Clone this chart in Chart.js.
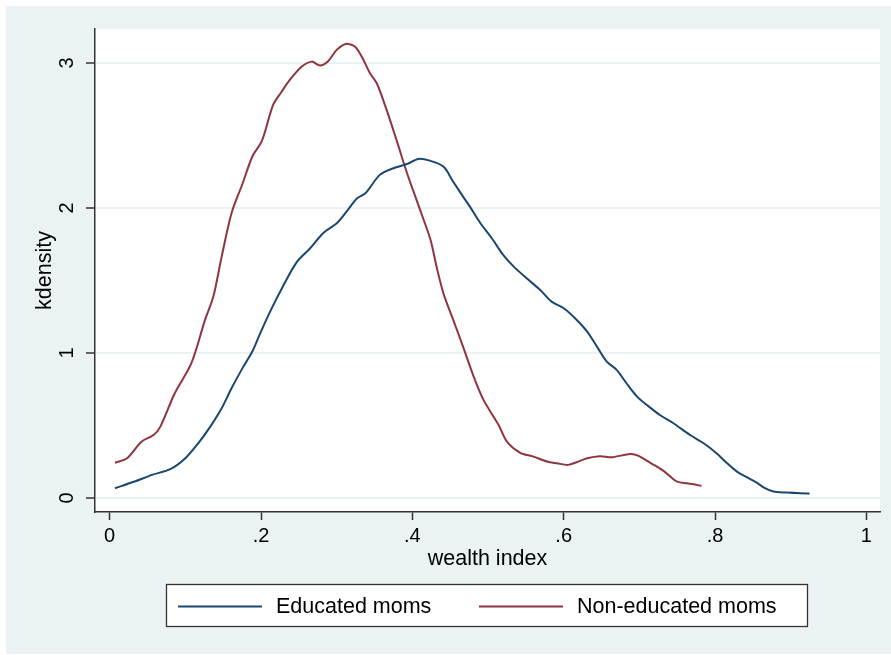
<!DOCTYPE html>
<html>
<head>
<meta charset="utf-8">
<script src="https://cdn.jsdelivr.net/npm/chart.js@4.4.1/dist/chart.umd.min.js"></script>
<style>
  html, body { margin: 0; padding: 0; background: #fff; }
  #wrap { width: 891px; height: 655px; }
</style>
</head>
<body>
<div id="wrap"><canvas id="kdChart" width="891" height="655"></canvas></div>
<script>
// Kernel density estimates
const eduX = [0.007, 0.033, 0.056, 0.080, 0.100, 0.117, 0.133, 0.148, 0.161, 0.175, 0.189, 0.199, 0.212, 0.228, 0.247,
  0.265, 0.282, 0.300, 0.313, 0.327, 0.338, 0.357, 0.375, 0.393, 0.408, 0.423, 0.441, 0.454, 0.467, 0.476, 0.490,
  0.505, 0.520, 0.534, 0.551, 0.569, 0.584, 0.600, 0.615, 0.631, 0.645, 0.657, 0.670, 0.683, 0.697, 0.710, 0.727,
  0.745, 0.767, 0.785, 0.802, 0.816, 0.829, 0.842, 0.855, 0.866, 0.877, 0.895, 0.913, 0.925];
const eduY = [0.067, 0.113, 0.159, 0.198, 0.274, 0.377, 0.492, 0.618, 0.756, 0.890, 1.015, 1.136, 1.285, 1.450, 1.625,
  1.722, 1.826, 1.894, 1.975, 2.067, 2.101, 2.228, 2.274, 2.303, 2.338, 2.326, 2.285, 2.181, 2.078, 2.009, 1.894,
  1.791, 1.676, 1.595, 1.515, 1.434, 1.354, 1.308, 1.239, 1.147, 1.035, 0.940, 0.883, 0.791, 0.699, 0.641, 0.572,
  0.515, 0.434, 0.377, 0.308, 0.239, 0.181, 0.143, 0.106, 0.067, 0.044, 0.037, 0.032, 0.030];

const nonX = [0.007, 0.023, 0.042, 0.058, 0.067, 0.086, 0.108, 0.126, 0.137, 0.148, 0.161, 0.175, 0.189, 0.201, 0.216,
  0.227, 0.238, 0.254, 0.267, 0.278, 0.289, 0.300, 0.312, 0.324, 0.333, 0.344, 0.353, 0.366, 0.379, 0.393, 0.404,
  0.415, 0.424, 0.432, 0.441, 0.454, 0.467, 0.481, 0.494, 0.514, 0.525, 0.542, 0.560, 0.578, 0.591, 0.606, 0.617,
  0.631, 0.648, 0.664, 0.688, 0.699, 0.714, 0.730, 0.741, 0.750, 0.763, 0.772, 0.782];
const nonY = [0.243, 0.274, 0.388, 0.434, 0.492, 0.722, 0.929, 1.228, 1.389, 1.664, 1.963, 2.160, 2.360, 2.460, 2.710,
  2.800, 2.883, 2.975, 3.009, 2.982, 3.014, 3.090, 3.131, 3.113, 3.044, 2.929, 2.860, 2.676, 2.469, 2.239, 2.078,
  1.917, 1.780, 1.595, 1.412, 1.228, 1.043, 0.837, 0.676, 0.503, 0.388, 0.313, 0.285, 0.251, 0.239, 0.228, 0.246,
  0.274, 0.288, 0.281, 0.303, 0.290, 0.243, 0.193, 0.147, 0.112, 0.101, 0.094, 0.083];

const seriesNames = ['Educated moms', 'Non-educated moms'];
const xTickValues = [0, 0.2, 0.4, 0.6, 0.8, 1];
const xTickLabels = ['0', '.2', '.4', '.6', '.8', '1'];
const yTickValues = [0, 1, 2, 3];
const yTickLabels = ['0', '1', '2', '3'];

const FONT = "'Liberation Sans', Arial, Helvetica, sans-serif";
const BLUE = '#1a476f';
const RED = '#90353b';
const AXIS = '#333333';

// turn two arrays into {x, y} points
function toPoints(xs, ys) {
    return xs.map((x, i) => ({ x: x, y: ys[i] }));
}

// light outer panel and white plot region
const backdrop = {
    id: 'backdrop',
    beforeDraw(chart) {
        const { ctx, chartArea: a } = chart;
        ctx.save();
        ctx.fillStyle = '#eaf2f3';
        ctx.fillRect(6, 6, 885, 648);
        ctx.fillStyle = '#ffffff';
        ctx.fillRect(a.left, a.top, a.right - a.left, a.bottom - a.top);
        ctx.restore();
    }
};

// Stata-like boxed legend under the axis title
const boxLegend = {
    id: 'boxLegend',
    afterDraw(chart) {
        const ctx = chart.ctx;
        const starts = [178, 479];
        const midY = 606.5;
        ctx.save();
        ctx.fillStyle = '#ffffff';
        ctx.fillRect(166, 584, 642, 43);
        ctx.strokeStyle = AXIS;
        ctx.lineWidth = 1.3;
        ctx.strokeRect(166.5, 584.5, 641, 42);
        chart.data.datasets.forEach((ds, i) => {
            ctx.strokeStyle = ds.borderColor;
            ctx.lineWidth = 2;
            ctx.beginPath();
            ctx.moveTo(starts[i], midY);
            ctx.lineTo(starts[i] + 84, midY);
            ctx.stroke();
            ctx.fillStyle = '#000';
            ctx.font = '21.5px ' + FONT;
            ctx.textBaseline = 'middle';
            ctx.textAlign = 'left';
            ctx.fillText(ds.label, starts[i] + 98, midY + 1);
        });
        ctx.restore();
    }
};

const ctx = document.getElementById('kdChart').getContext('2d');
new Chart(ctx, {
    type: 'line',
    data: {
        datasets: [
            {
                label: seriesNames[0],
                data: toPoints(eduX, eduY),
                borderColor: BLUE,
                borderWidth: 2,
                pointRadius: 0,
                fill: false,
                tension: 0.3
            },
            {
                label: seriesNames[1],
                data: toPoints(nonX, nonY),
                borderColor: RED,
                borderWidth: 2,
                pointRadius: 0,
                fill: false,
                tension: 0.3
            }
        ]
    },
    options: {
        responsive: false,
        animation: false,
        layout: { padding: { left: 0, right: 11, top: 29, bottom: 81 } },
        plugins: {
            legend: { display: false },
            tooltip: { enabled: false }
        },
        scales: {
            x: {
                type: 'linear',
                min: -0.0194,
                max: 1.018,
                afterBuildTicks: (scale) => { scale.ticks = xTickValues.map(v => ({ value: v })); },
                afterFit: (scale) => { scale.height = 62; },
                border: { color: AXIS, width: 1.5 },
                grid: { drawOnChartArea: false, drawTicks: true, tickLength: 8, tickColor: AXIS, tickWidth: 1.5 },
                ticks: {
                    padding: 4,
                    maxRotation: 0,
                    color: '#000',
                    font: { family: FONT, size: 20 },
                    callback: (v, i) => xTickLabels[i]
                },
                title: {
                    display: true,
                    text: 'wealth index',
                    color: '#000',
                    font: { family: FONT, size: 21.5 },
                    padding: { top: 0, bottom: 2 }
                }
            },
            y: {
                type: 'linear',
                min: -0.097,
                max: 3.234,
                afterBuildTicks: (scale) => { scale.ticks = yTickValues.map(v => ({ value: v })); },
                afterFit: (scale) => { scale.width = 95; },
                border: { color: AXIS, width: 1.5 },
                grid: { color: '#eaf2f3', lineWidth: 2, tickLength: 9, tickColor: AXIS, tickWidth: 1.5 },
                ticks: {
                    padding: 13,
                    minRotation: 90,
                    maxRotation: 90,
                    crossAlign: 'center',
                    color: '#000',
                    font: { family: FONT, size: 20 },
                    callback: (v, i) => yTickLabels[i]
                },
                title: {
                    display: true,
                    text: 'kdensity',
                    color: '#000',
                    font: { family: FONT, size: 21.5 },
                    padding: { top: 32, bottom: 0 }
                }
            }
        }
    },
    plugins: [backdrop, boxLegend]
});
</script>
</body>
</html>
